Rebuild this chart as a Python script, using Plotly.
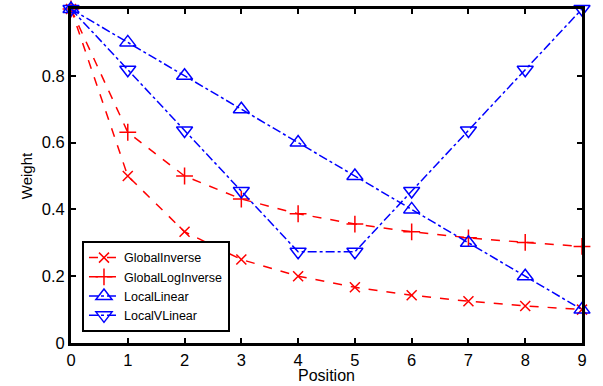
import plotly.graph_objects as go

positions = [0, 1, 2, 3, 4, 5, 6, 7, 8, 9]
global_inverse = [1.0, 0.5, 0.333, 0.25, 0.2, 0.167, 0.143, 0.125, 0.111, 0.1]
global_log_inverse = [1.0, 0.631, 0.5, 0.431, 0.387, 0.356, 0.333, 0.315, 0.301, 0.289]
local_linear = [1.0, 0.9, 0.8, 0.7, 0.6, 0.5, 0.4, 0.3, 0.2, 0.1]
local_v_linear = [1.0, 0.818, 0.636, 0.455, 0.273, 0.273, 0.455, 0.636, 0.818, 1.0]
x_ticks = [0, 1, 2, 3, 4, 5, 6, 7, 8, 9]
y_ticks = [0, 0.2, 0.4, 0.6, 0.8, 1]
y_tick_text = ["0", "0.2", "0.4", "0.6", "0.8", "1"]

RED = "#ff0000"
BLUE = "#0000ff"
FONT = "Liberation Sans, Arial, Helvetica, sans-serif"

fig = go.Figure()
fig.add_trace(go.Scatter(
    x=positions, y=global_inverse, name="GlobalInverse", mode="lines+markers",
    line=dict(color=RED, width=1.5, dash="dash"),
    marker=dict(symbol="x-thin", size=10, line=dict(color=RED, width=1.5)),
    cliponaxis=False))
fig.add_trace(go.Scatter(
    x=positions, y=global_log_inverse, name="GlobalLogInverse", mode="lines+markers",
    line=dict(color=RED, width=1.5, dash="dash"),
    marker=dict(symbol="cross-thin", size=12, line=dict(color=RED, width=1.5)),
    cliponaxis=False))
fig.add_trace(go.Scatter(
    x=positions, y=local_linear, name="LocalLinear", mode="lines+markers",
    line=dict(color=BLUE, width=1.5, dash="dashdot"),
    marker=dict(symbol="triangle-up-open", size=14, color=BLUE, line=dict(color=BLUE, width=1.5)),
    cliponaxis=False))
fig.add_trace(go.Scatter(
    x=positions, y=local_v_linear, name="LocalVLinear", mode="lines+markers",
    line=dict(color=BLUE, width=1.5, dash="dashdot"),
    marker=dict(symbol="triangle-down-open", size=14, color=BLUE, line=dict(color=BLUE, width=1.5)),
    cliponaxis=False))

axis_common = dict(
    showgrid=False, zeroline=False, showline=True, linecolor="black", linewidth=3,
    mirror="ticks", ticks="inside", ticklen=5, tickwidth=2, tickcolor="black",
    tickfont=dict(family=FONT, size=16.5, color="black"), automargin=False,
)

fig.update_layout(
    width=603, height=386,
    margin=dict(l=71, r=21, t=9, b=43, autoexpand=False),
    paper_bgcolor="white", plot_bgcolor="white",
    font=dict(family=FONT, color="black"),
    xaxis=dict(range=[0, 9], tickvals=x_ticks, ticktext=[str(t) for t in x_ticks],
               **axis_common),
    yaxis=dict(range=[0, 1], tickvals=y_ticks, ticktext=y_tick_text,
               title=dict(text="Weight", font=dict(size=15), standoff=6), **axis_common),
    legend=dict(x=0.0215, y=0.033, xanchor="left", yanchor="bottom",
                bgcolor="white", bordercolor="black", borderwidth=2,
                font=dict(size=12.5, color="black"), itemwidth=30,
                tracegroupgap=0, traceorder="normal"),
    showlegend=True,
    annotations=[dict(text="Position", xref="paper", yref="paper", x=0.5, y=-0.097,
                      xanchor="center", yanchor="middle", showarrow=False,
                      font=dict(family=FONT, size=16, color="black"))],
)

fig.write_html("out.html", config={"displayModeBar": False},
               post_script="document.body.style.margin='0';")
